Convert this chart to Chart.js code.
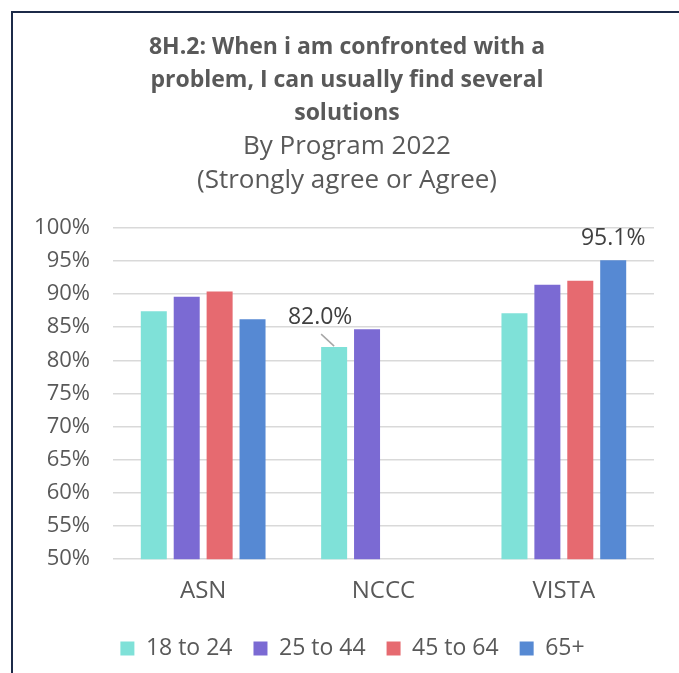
<!DOCTYPE html>
<html>
<head>
<meta charset="utf-8">
<script src="https://cdn.jsdelivr.net/npm/chart.js@4/dist/chart.umd.min.js"></script>
<style>
  body { margin: 0; background: #fff; overflow: hidden; }
  #frame {
    position: absolute; left: 11px; top: 11px;
    width: 690px; height: 690px;
    border-top: 2px solid #1c2a48; border-left: 2px solid #1c2a48;
  }
  #wrap { position: absolute; left: 0; top: 0; width: 668px; height: 672px; }
</style>
</head>
<body>
<div id="frame"><div id="wrap"><canvas id="programChart"></canvas></div></div>
<script>
const programs = ['ASN', 'NCCC', 'VISTA'];
const ageGroups = ['18 to 24', '25 to 44', '45 to 64', '65+'];
const age18to24 = [87.4, 82.0, 87.1];
const age25to44 = [89.6, 84.7, 91.4];
const age45to64 = [90.4, null, 92.0];
const age65plus = [86.2, null, 95.1];
const yTicks = [50, 55, 60, 65, 70, 75, 80, 85, 90, 95, 100];
// [dataset, category] pairs that carry a value label
const labeledPoints = [[0, 1], [3, 2]];

const colours = ['#7fe1d8', '#7b6ad3', '#e66a70', '#5689d3'];
const textColour = '#595959';
const fontName = '"Open Sans"';

const ctx = document.getElementById('programChart');

const pointLabels = {
    id: 'pointLabels',
    afterDatasetsDraw(chart) {
        const c = chart.ctx;
        c.save();
        c.font = '23px ' + fontName;
        c.fillStyle = '#404040';
        c.textAlign = 'center';
        c.textBaseline = 'middle';
        labeledPoints.forEach(([d, i]) => {
            const bar = chart.getDatasetMeta(d).data[i];
            const txt = chart.data.datasets[d].data[i].toFixed(1) + '%';
            if (d === 0) {
                // label pushed up-left with a leader line
                c.strokeStyle = '#a6a6a6';
                c.lineWidth = 1.5;
                c.beginPath();
                c.moveTo(bar.x, bar.y - 1);
                c.lineTo(bar.x - 13, bar.y - 13);
                c.stroke();
                c.fillText(txt, bar.x - 14, bar.y - 30);
            } else {
                c.fillText(txt, bar.x, bar.y - 22);
            }
        });
        c.restore();
    }
};

// titles are centred on the whole frame, legend sits a bit right of it
const shiftBoxes = {
    id: 'shiftBoxes',
    afterLayout(chart) {
        chart.boxes.forEach(b => {
            if (b.position === 'top') b.left = 27;
            if (b.position === 'bottom' && b.legendItems) b.left = 38;
        });
    }
};

const data = {
    labels: programs,
    datasets: [age18to24, age25to44, age45to64, age65plus].map((vals, k) => ({
        label: ageGroups[k],
        data: vals,
        backgroundColor: colours[k],
        barPercentage: 0.79,
        categoryPercentage: 0.73
    }))
};

new Chart(ctx, {
    type: 'bar',
    data: data,
    options: {
        responsive: true,
        maintainAspectRatio: false,
        animation: false,
        layout: { padding: { left: 0, right: 27, top: 18, bottom: 15 } },
        plugins: {
            title: {
                display: true,
                text: ['8H.2: When i am confronted with a', 'problem, I can usually find several', 'solutions'],
                color: textColour,
                font: { family: fontName, size: 23, weight: 'bold', lineHeight: 1.43 },
                padding: { top: 0, bottom: 0 }
            },
            subtitle: {
                display: true,
                text: ['By Program 2022', '(Strongly agree or Agree)'],
                color: textColour,
                font: { family: fontName, size: 26, lineHeight: 1.31 },
                padding: { top: 0, bottom: 30 }
            },
            legend: {
                position: 'bottom',
                labels: {
                    color: textColour,
                    font: { family: fontName, size: 23 },
                    boxWidth: 14,
                    boxHeight: 14,
                    padding: 21
                }
            },
            tooltip: { enabled: false }
        },
        scales: {
            x: {
                grid: { display: false },
                border: { display: false },
                ticks: { color: textColour, font: { family: fontName, size: 24 }, padding: 10 }
            },
            y: {
                min: 50,
                max: 100,
                afterFit: (scale) => { scale.width = 100; },
                afterBuildTicks: (scale) => { scale.ticks = yTicks.map(v => ({ value: v })); },
                border: { display: false },
                grid: { color: '#d9d9d9', lineWidth: 1.5, drawTicks: false },
                ticks: {
                    color: textColour,
                    font: { family: fontName, size: 22 },
                    padding: 23,
                    callback: (v) => v + '%'
                }
            }
        }
    },
    plugins: [pointLabels, shiftBoxes]
});
</script>
</body>
</html>
